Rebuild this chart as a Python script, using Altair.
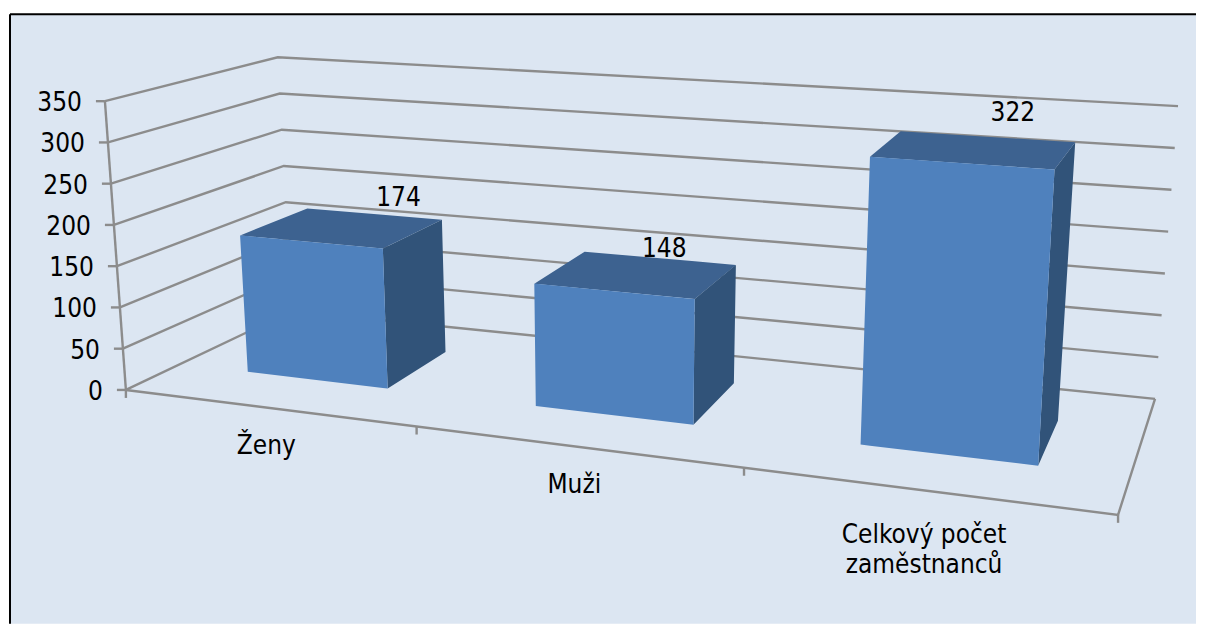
import altair as alt
import pandas as pd

# ---- chart values ----
categories = ["Ženy", "Muži", "Celkový počet\nzaměstnanců"]
values = [174, 148, 322]
y_ticks = [0, 50, 100, 150, 200, 250, 300, 350]
Y_MAX = 350

# ---- 3-D box model (screen position of the eight corners of the chart cube) ----
A, B, C, D = (126, 390), (1119, 515), (292, 311), (1156, 399)      # floor: front-L, front-R, back-L, back-R
At, Bt, Ct, Dt = (105, 101), (1140, 173), (278, 57), (1179, 106)    # same corners at the top
W, H = 1189, 616
ORIGIN = 8
GRID, FRONT, TOP, SIDE, BG = "#8C8C8C", "#4F81BD", "#3D6290", "#315379", "#DCE6F2"
FONT = "DejaVu Sans Condensed"
FS = 26

bar_u = [(0.0707, 0.218), (0.374, 0.54), (0.716, 0.903)]
bar_d = [(0.33, 0.75), (0.33, 0.75), (0.33, 0.73)]
bar_gain = [0.978, 0.98, 1.003]     # perspective correction of the height at each bar's place
cat_bounds = [0, 0.293, 0.623, 1]
value_offset = [(24, -13), (4, -7), (25, -25)]
cat_offset = [(-5, 38), (-6, 38), (-7, 44)]
TICK_LABEL_DX, TICK_LABEL_DY = -23, 2


def project(u, d, v):
    """Trilinear map from model space (across, depth, value) to the picture."""
    t = v / Y_MAX
    out = []
    for i in (0, 1):
        bot = (1 - d) * ((1 - u) * A[i] + u * B[i]) + d * ((1 - u) * C[i] + u * D[i])
        top = (1 - d) * ((1 - u) * At[i] + u * Bt[i]) + d * ((1 - u) * Ct[i] + u * Dt[i])
        out.append(bot + (top - bot) * t)
    return tuple(out)


def envelope(poly, face, fill):
    """Turn a convex polygon into rows of an area mark: x, upper y, lower y."""
    n = len(poly)
    xs = sorted({round(p[0], 3) for p in poly})
    rows = []
    for x in xs:
        ys = []
        for i in range(n):
            (x0, y0), (x1, y1) = poly[i], poly[(i + 1) % n]
            if min(x0, x1) - 1e-3 <= x <= max(x0, x1) + 1e-3:
                if abs(x1 - x0) < 1e-6:
                    ys += [y0, y1]
                else:
                    ys.append(y0 + (y1 - y0) * (x - x0) / (x1 - x0))
        rows.append({"x": x, "y": min(ys), "y2": max(ys), "face": face, "fill": fill})
    return rows


# ---- tables ----
lines = []
gid = 0


def add_line(points):
    global gid
    for k, (x, y) in enumerate(points):
        lines.append({"x": x, "y": y, "g": gid, "k": k})
    gid += 1


for v in y_ticks:
    fl, bl, br = project(0, 0, v), project(0, 1, v), project(1, 1, v)
    add_line([fl, bl, br])
    add_line([(fl[0] - 9, fl[1]), fl])
add_line([project(0, 0, 0), project(0, 0, Y_MAX)])
add_line([project(0, 0, 0), project(1, 0, 0), project(1, 1, 0)])
for u in cat_bounds:
    x, y = project(u, 0, 0)
    add_line([(x, y), (x, y + 8)])
lines_df = pd.DataFrame(lines)

faces = []
for i, (value, gain, (u0, u1), (d0, d1)) in enumerate(zip(values, bar_gain, bar_u, bar_d)):
    val = value * gain
    faces += envelope([project(u0, d0, val), project(u1, d0, val), project(u1, d1, val), project(u0, d1, val)], f"t{i}", "top")
    faces += envelope([project(u1, d0, val), project(u1, d1, val), project(u1, d1, 0), project(u1, d0, 0)], f"s{i}", "side")
    faces += envelope([project(u0, d0, val), project(u1, d0, val), project(u1, d0, 0), project(u0, d0, 0)], f"f{i}", "front")
faces_df = pd.DataFrame(faces)

tick_labels = pd.DataFrame(
    [{"x": project(0, 0, v)[0] + TICK_LABEL_DX, "y": project(0, 0, v)[1] + TICK_LABEL_DY, "t": str(v)} for v in y_ticks]
)

val_rows = []
for val, (u0, u1), (d0, d1), (ox, oy) in zip(values, bar_u, bar_d, value_offset):
    x, y = project((u0 + u1) / 2, d1, val)
    val_rows.append({"x": x + ox, "y": y + oy, "t": str(val)})
val_labels = pd.DataFrame(val_rows)

cat_rows = []
for i, (name, (ox, oy)) in enumerate(zip(categories, cat_offset)):
    x, y = project((cat_bounds[i] + cat_bounds[i + 1]) / 2, 0, 0)
    cat_rows.append({"x": x + ox, "y": y + oy, "t": name})
cat_labels = pd.DataFrame(cat_rows)

frame = pd.DataFrame([{"x": 10, "x2": ORIGIN + W, "y": 14, "y2": ORIGIN + H}])

# ---- scales ----
X = alt.X("x:Q", scale=alt.Scale(domain=[ORIGIN, ORIGIN + W], nice=False, zero=False), axis=None)
Y = alt.Y("y:Q", scale=alt.Scale(domain=[ORIGIN + H, ORIGIN], nice=False, zero=False), axis=None)

bg = alt.Chart(frame).mark_rect(fill=BG, stroke=None).encode(X, Y, x2="x2:Q", y2="y2:Q")
border_left = alt.Chart(frame).mark_rule(color="black", strokeWidth=2).encode(X, Y, y2="y2:Q")
border_top = alt.Chart(frame).mark_rule(color="black", strokeWidth=2).encode(X, Y, x2="x2:Q")

grid = alt.Chart(lines_df).mark_line(color=GRID, strokeWidth=2.4, interpolate="linear").encode(
    X, Y, detail="g:N", order="k:Q"
)

bars = alt.Chart(faces_df).mark_area(strokeWidth=0, interpolate="linear").encode(
    X, Y, y2="y2:Q", detail="face:N",
    color=alt.Color("fill:N", legend=None,
                    scale=alt.Scale(domain=["front", "side", "top"], range=[FRONT, SIDE, TOP])),
)


def text_layer(df, align="center", **kw):
    return alt.Chart(df).mark_text(font=FONT, fontSize=FS, color="black", align=align,
                                   baseline="middle", **kw).encode(X, Y, text="t:N")


chart = (
    alt.layer(
        bg, border_left, border_top, grid, bars,
        text_layer(tick_labels, align="right"),
        text_layer(val_labels),
        text_layer(cat_labels, lineBreak="\n", lineHeight=30),
    )
    .properties(width=W, height=H, padding=0, background="white")
    .configure_view(stroke=None)
)

chart.save("out.html", embed_options={"renderer": "svg", "actions": False})
